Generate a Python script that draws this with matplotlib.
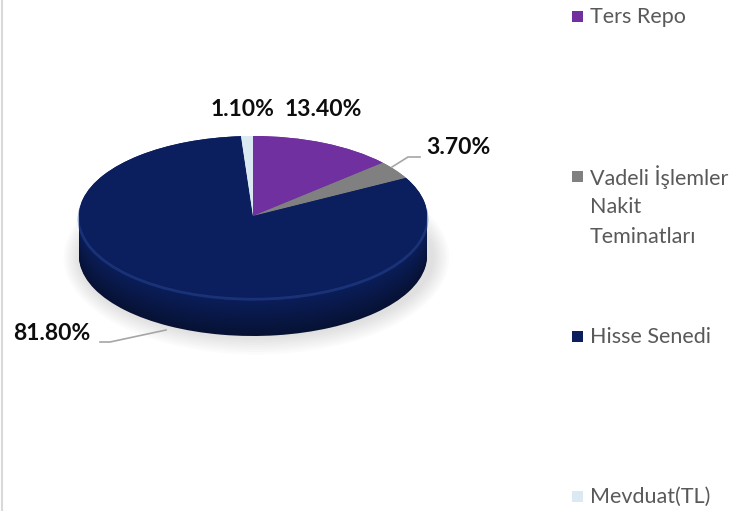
import numpy as np
import matplotlib
matplotlib.use("Agg")
import matplotlib.pyplot as plt
from matplotlib.patches import Ellipse, Rectangle
from matplotlib.colors import to_rgb

# data
labels = ["Ters Repo", "Vadeli İşlemler\nNakit\nTeminatları", "Hisse Senedi", "Mevduat(TL)"]
values = [13.40, 3.70, 81.80, 1.10]
colors = ["#7030a0", "#808080", "#0b1f5e", "#dbe9f3"]
pct_text = ["13.40%", "3.70%", "81.80%", "1.10%"]

W, H = 752, 511
fig = plt.figure(figsize=(W / 100, H / 100), dpi=100)

# pie axes: unit circle -> ellipse, centre (253, 216) px, rx 174, ry 80
cx, cy, rx, ry = 253, 216, 174, 80
depth = 40 / ry
pax = fig.add_axes([0, 0, 1, 1])


def darker(c, f):
    r, g, b = to_rgb(c)
    return (r * f, g * f, b * f)


# soft shadow under the pie
for i in range(8):
    pax.add_patch(Ellipse((0.02, -depth - 0.02), 2.04 + i * 0.025, 2.0 + i * 0.06,
                          color="#9a9a9a", alpha=0.04, lw=0, zorder=0))

# side of the pie, stacked layers
n = 40
for k, d in enumerate(np.linspace(depth, 0, n)):
    f = 0.55 + 0.45 * k / (n - 1)
    pax.pie(values, colors=[darker(c, f) for c in colors], startangle=90,
            counterclock=False, center=(0, -d), radius=1,
            wedgeprops=dict(linewidth=0))
# rim highlight
pax.add_patch(Ellipse((0, -0.04), 2.0, 2.0, fill=False, ec="#2d4c9c", lw=2, alpha=0.45))
# top face
pax.pie(values, colors=colors, startangle=90, counterclock=False,
        center=(0, 0), radius=1, wedgeprops=dict(linewidth=0))

pax.set_aspect("auto")
pax.set_xlim(-cx / rx, (W - cx) / rx)
pax.set_ylim((cy - H) / ry, cy / ry)
pax.axis("off")

# overlay in pixel coords for labels and legend
ax = fig.add_axes([0, 0, 1, 1], facecolor="none")
ax.set_xlim(0, W)
ax.set_ylim(H, 0)
ax.axis("off")

ax.plot([1.5, 1.5], [0, H], color="#d9d9d9", lw=1.5)

lab_font = dict(family="Lato", fontsize=16.5, fontweight="bold", color="#0d0d0d")
ax.text(323, 110, pct_text[0], ha="center", va="center", **lab_font)
ax.text(458, 148, pct_text[1], ha="center", va="center", **lab_font)
ax.text(52, 333, pct_text[2], ha="center", va="center", **lab_font)
ax.text(242, 110, pct_text[3], ha="center", va="center", **lab_font)

ax.plot([392, 408, 420], [167, 157, 157], color="#a6a6a6", lw=1.2)
ax.plot([100, 110, 166], [342, 342, 330], color="#a6a6a6", lw=1.2)

# legend
leg_y = [17, 177, 337, 497]
for lab, c, y in zip(labels, colors, leg_y):
    ax.add_patch(Rectangle((572, y - 5.5), 11, 11, color=c, lw=0))
    for i, line in enumerate(lab.split("\n")):
        ax.text(590, y + 30 * i, line, ha="left", va="center",
                family="Lato", fontsize=15.5, color="#595959")

fig.savefig("out.png", dpi=100)
